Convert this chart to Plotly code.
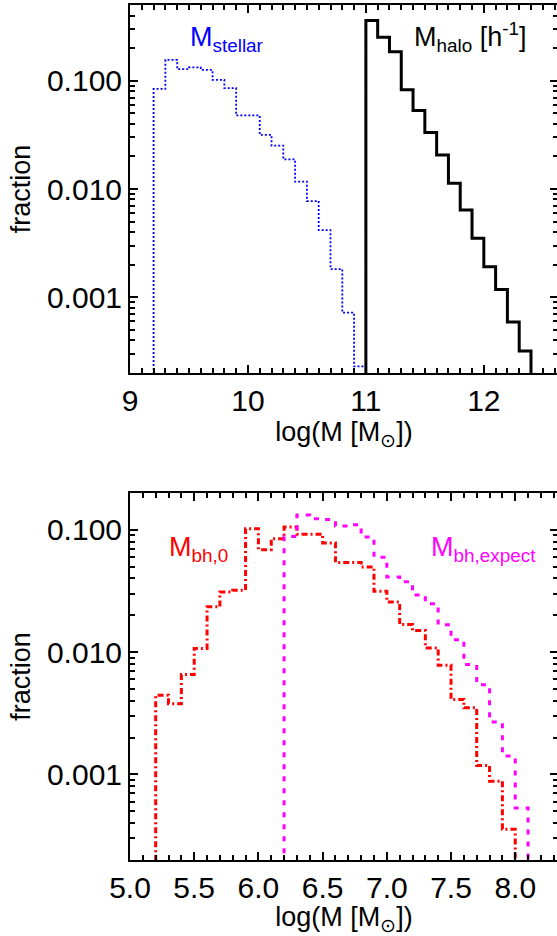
import plotly.graph_objects as go

# ---------------- data ----------------
# top panel: log stellar mass / halo mass histograms (bin edges, fractions)
stellar_edges = [9.2, 9.3, 9.4, 9.5, 9.6, 9.7, 9.8, 9.9, 10.0, 10.1, 10.2,
                 10.3, 10.4, 10.5, 10.6, 10.7, 10.8, 10.9, 11.0]
stellar_frac = [0.084, 0.156, 0.128, 0.133, 0.126, 0.102, 0.0856, 0.0478,
                0.0478, 0.0316, 0.0252, 0.0188, 0.0117, 0.00774, 0.00417,
                0.00182, 0.00072, 0.00023]

halo_edges = [11.0, 11.1, 11.2, 11.3, 11.4, 11.5, 11.6, 11.7, 11.8, 11.9,
              12.0, 12.1, 12.2, 12.3, 12.4]
halo_frac = [0.361, 0.252, 0.185, 0.0826, 0.0531, 0.0332, 0.0206, 0.0113,
             0.0064, 0.0035, 0.00191, 0.00118, 0.00059, 0.000318]

# bottom panel: black hole mass histograms
bh0_edges = [5.2, 5.3, 5.4, 5.5, 5.6, 5.7, 5.8, 5.9, 6.0, 6.1, 6.2, 6.3, 6.4,
             6.5, 6.6, 6.7, 6.8, 6.9, 7.0, 7.1, 7.2, 7.3, 7.4, 7.5, 7.6, 7.7,
             7.8, 7.9, 8.0]
bh0_frac = [0.00443, 0.00378, 0.00655, 0.0107, 0.0234, 0.031, 0.032, 0.102,
            0.0687, 0.0845, 0.105, 0.092, 0.092, 0.078, 0.054, 0.054, 0.0495,
            0.0314, 0.0257, 0.0168, 0.015, 0.0108, 0.0078, 0.0041, 0.0035,
            0.00118, 0.00088, 0.000356]

bhexp_edges = [6.2, 6.3, 6.4, 6.5, 6.6, 6.7, 6.8, 6.9, 7.0, 7.1, 7.2, 7.3,
               7.4, 7.5, 7.6, 7.7, 7.8, 7.9, 8.0, 8.1]
bhexp_frac = [0.088, 0.132, 0.123, 0.121, 0.107, 0.110, 0.087, 0.0596, 0.041,
              0.0375, 0.0292, 0.0248, 0.0167, 0.0126, 0.0079, 0.0054, 0.00268,
              0.00141, 0.00053]

ytick_vals = [0.001, 0.01, 0.1]
ytick_text = ["0.001", "0.010", "0.100"]
ytick_minor = [m * d for d in (1e-4, 1e-3, 1e-2, 1e-1) for m in range(2, 10)]

FLOOR = 1e-6  # below visible range: vertical edges run to the axis


def step_xy(edges, vals):
    x = [edges[0]] + list(edges) + [edges[-1]]
    y = [FLOOR] + list(vals) + [vals[-1], FLOOR]
    return x, y


FONT = "Liberation Sans, Arial, Helvetica, sans-serif"
# figure slightly wider than the window: the right frame line falls just
# outside the visible page, as in the reference
W, H = 560, 936

fig = go.Figure()

x, y = step_xy(stellar_edges, stellar_frac)
fig.add_trace(go.Scatter(x=x, y=y, mode="lines", line_shape="hv",
                         line=dict(color="#0000ff", width=1.8, dash="2px,2px"),
                         xaxis="x", yaxis="y", showlegend=False))
x, y = step_xy(halo_edges, halo_frac)
fig.add_trace(go.Scatter(x=x, y=y, mode="lines", line_shape="hv",
                         line=dict(color="black", width=3),
                         xaxis="x", yaxis="y", showlegend=False))
x, y = step_xy(bh0_edges, bh0_frac)
fig.add_trace(go.Scatter(x=x, y=y, mode="lines", line_shape="hv",
                         line=dict(color="#ff0000", width=3,
                                   dash="6px,3px,2px,3px"),
                         xaxis="x2", yaxis="y2", showlegend=False))
x, y = step_xy(bhexp_edges, bhexp_frac)
fig.add_trace(go.Scatter(x=x, y=y, mode="lines", line_shape="hv",
                         line=dict(color="#ff00ff", width=3, dash="5px,7px"),
                         xaxis="x2", yaxis="y2", showlegend=False))

# panel pixel geometry
top_y0, top_y1 = 5, 373
bot_y0, bot_y1 = 493, 860

common_x = dict(ticks="inside", ticklen=8, tickwidth=2, linecolor="black",
                linewidth=2, mirror="ticks", showgrid=False, zeroline=False,
                tickcolor="black",
                tickfont=dict(family=FONT, size=30, color="black"),
                title_font=dict(family=FONT, size=27, color="black"),
                title_standoff=2)
common_y = dict(type="log", ticks="inside", ticklen=8, tickwidth=2,
                linecolor="black", linewidth=2, mirror="ticks",
                showgrid=False, zeroline=False, tickcolor="black",
                tickmode="array", tickvals=ytick_vals, ticktext=ytick_text,
                minor=dict(tickmode="array", tickvals=ytick_minor,
                           ticklen=5, tickwidth=1.5, tickcolor="black",
                           ticks="inside"),
                tickfont=dict(family=FONT, size=30, color="black"),
                title_font=dict(family=FONT, size=27, color="black"),
                title_standoff=8)

fig.update_layout(
    width=W, height=H,
    margin=dict(l=130, r=0, t=0, b=0),
    paper_bgcolor="white", plot_bgcolor="white",
    xaxis=dict(domain=[0, 1], range=[9.0, 12.629], anchor="y",
               tickmode="linear", tick0=9, dtick=1,
               minor=dict(dtick=0.1, ticklen=5, tickwidth=1.5,
                          tickcolor="black", ticks="inside"),
               title_text="log(M [M<sub>⊙</sub>])", **common_x),
    yaxis=dict(domain=[1 - top_y1 / H, 1 - top_y0 / H], anchor="x",
               range=[-3.70, -0.30], title_text="fraction", **common_y),
    xaxis2=dict(domain=[0, 1], range=[5.0, 8.333], anchor="y2",
                tickmode="array",
                tickvals=[5.0, 5.5, 6.0, 6.5, 7.0, 7.5, 8.0],
                ticktext=["5.0", "5.5", "6.0", "6.5", "7.0", "7.5", "8.0"],
                minor=dict(dtick=0.1, tick0=5.0, ticklen=5, tickwidth=1.5,
                           tickcolor="black", ticks="inside"),
                title_text="log(M [M<sub>⊙</sub>])", **common_x),
    yaxis2=dict(domain=[1 - bot_y1 / H, 1 - bot_y0 / H], anchor="x2",
                range=[-3.70, -0.70], title_text="fraction", **common_y),
)

ann_font = dict(family=FONT, size=27)
fig.add_annotation(x=9.49, y=-0.787, xref="x", yref="y", xanchor="left",
                   yanchor="bottom",
                   text="M<sub>stellar</sub>", showarrow=False,
                   font=dict(color="#0000ff", **ann_font))
fig.add_annotation(x=11.39, y=-0.787, xref="x", yref="y", xanchor="left",
                   yanchor="bottom",
                   text="M<sub>halo</sub> [h<sup>-1</sup>]", showarrow=False,
                   font=dict(color="black", **ann_font))
fig.add_annotation(x=5.285, y=-1.31, xref="x2", yref="y2", xanchor="left",
                   yanchor="bottom",
                   text="M<sub>bh,0</sub>", showarrow=False,
                   font=dict(color="#ff0000", **ann_font))
fig.add_annotation(x=7.325, y=-1.31, xref="x2", yref="y2", xanchor="left",
                   yanchor="bottom",
                   text="M<sub>bh,expect</sub>", showarrow=False,
                   font=dict(color="#ff00ff", **ann_font))

# the page body has a default 8px margin; remove it so the figure starts at 0,0
fig.write_html(
    "out.html",
    config={"displayModeBar": False},
    post_script=("document.body.style.margin='0px';"
                 "document.body.style.overflow='hidden';"),
)
